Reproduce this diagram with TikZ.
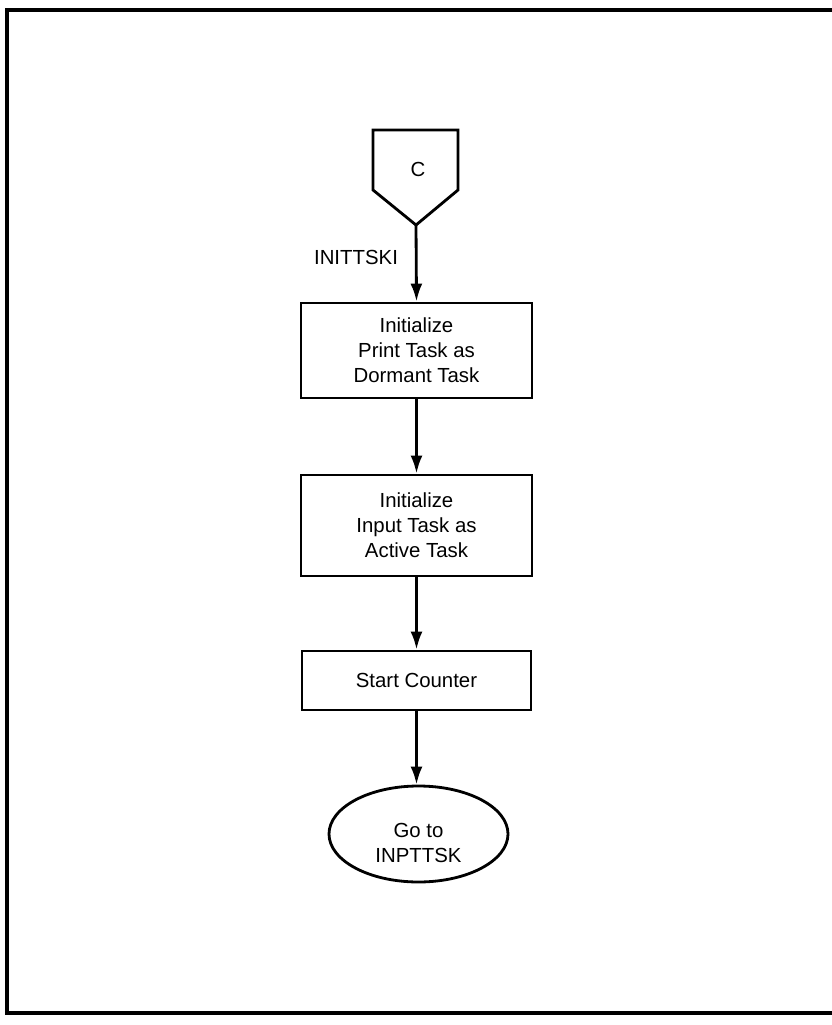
\documentclass[tikz,border=0pt]{standalone}
\usepackage{fontspec}
\setmainfont{Liberation Sans}
\usetikzlibrary{arrows.meta,shapes.geometric}

\begin{document}
\begin{tikzpicture}[
	txt/.style={font=\fontsize{11.6}{14.2}\selectfont, align=center},
	box/.style={txt, draw, line width=1.6pt, inner sep=0pt, minimum width=4.62cm},
	flow/.style={line width=1.6pt, -{Latex[length=3.6mm,width=2.4mm]}}]

	\useasboundingbox (0,0) rectangle (16.64,-20.5);
	\draw[line width=2.2pt] (16.64,-0.2) -- (0.14,-0.2) -- (0.14,-20.26) -- (16.64,-20.26);

	% entry connector
	\node[txt] (conC) at (8.36,-3.38) {C};
	\draw[line width=1.6pt, line join=miter] (7.46,-2.6) -- (9.16,-2.6) -- (9.16,-3.8) -- (8.32,-4.5) -- (7.46,-3.8) -- cycle;
	\coordinate (conTip) at (8.32,-4.5);
	\node[txt] (entry) at (7.12,-5.14) {INITTSKI};

	\node[box, minimum height=1.9cm, text depth=-2pt] (initPrint) at (8.33,-7.01) {Initialize\\Print Task as\\Dormant Task};
	\node[box, minimum height=2.02cm] (initInput) at (8.33,-10.51) {Initialize\\Input Task as\\Active Task};
	\node[box, minimum width=4.58cm, minimum height=1.18cm] (startCnt) at (8.33,-13.61) {Start Counter};
	\node[draw, ellipse, line width=1.6pt, inner sep=0pt, minimum width=3.58cm, minimum height=1.92cm] (gotoIn) at (8.37,-16.68) {};
	\node[txt] (gotoTxt) at ([yshift=-0.18cm]gotoIn.center) {Go to\\INPTTSK};

	\draw[flow] (conTip) -- (initPrint.north);
	\draw[flow] (initPrint) -- (initInput);
	\draw[flow] (initInput) -- (startCnt);
	\draw[flow] (startCnt.south) -- (startCnt.south |- gotoIn.north);

\end{tikzpicture}
\end{document}
